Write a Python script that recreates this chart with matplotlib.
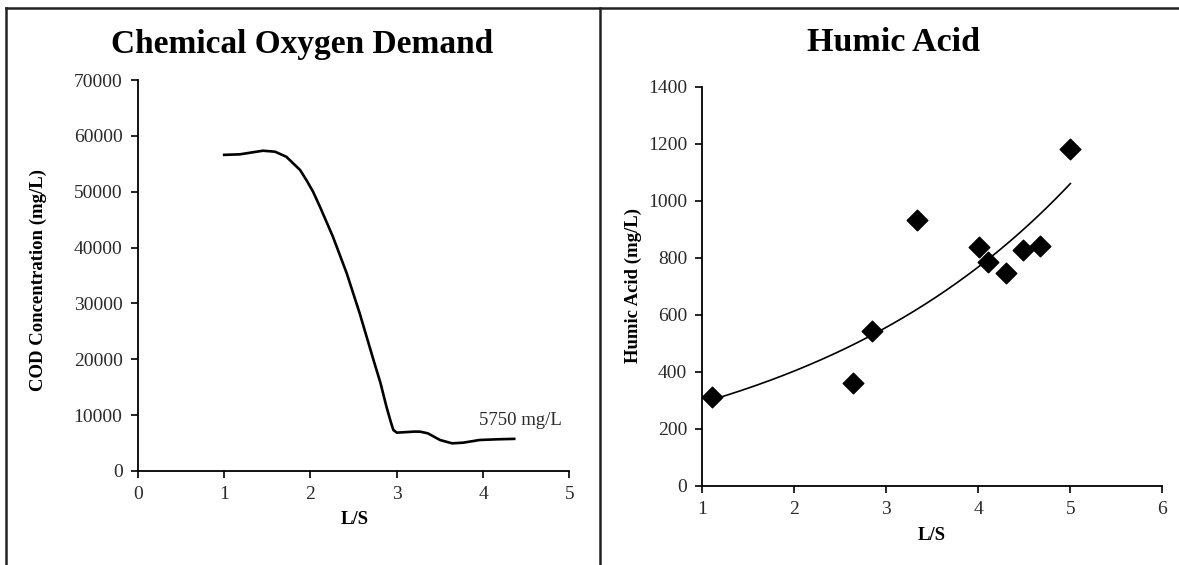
"""Two-panel leachate chart: COD decline and humic acid rise versus L/S."""
import matplotlib
matplotlib.use("Agg")
import matplotlib.pyplot as plt
import numpy as np
from matplotlib.lines import Line2D

# COD concentration curve
cod_ls = [1.0, 1.18, 1.45, 1.59, 1.72, 1.88, 1.96, 2.03, 2.11, 2.26, 2.42, 2.57,
          2.73, 2.81, 2.88, 2.93, 2.96, 3.0, 3.1, 3.2, 3.27, 3.36, 3.50, 3.64,
          3.77, 3.96, 4.16, 4.36]
cod_mg = [56600, 56690, 57340, 57160, 56260, 53880, 51900, 50000, 47300, 41940,
          35390, 28230, 19870, 15800, 11510, 8800, 7340, 6860, 6950, 7050, 7040,
          6740, 5550, 4950, 5070, 5550, 5670, 5750]
cod_note = "5750 mg/L"

# humic acid samples
ha_ls = [1.11, 2.64, 2.84, 3.33, 4.01, 4.10, 4.30, 4.48, 4.67, 5.00]
ha_mg = [310, 360, 543, 932, 838, 783, 747, 826, 842, 1182]

SERIF = ["Liberation Serif", "DejaVu Serif"]
plt.rcParams["font.family"] = SERIF


def style(ax, xlim, ylim, xticks, yticks):
    ax.set_xlim(*xlim); ax.set_ylim(*ylim)
    ax.set_xticks(xticks); ax.set_yticks(yticks)
    for s in ("top", "right"):
        ax.spines[s].set_visible(False)
    for s in ("left", "bottom"):
        ax.spines[s].set_linewidth(1.3)
    ax.tick_params(direction="out", length=5, width=1.2, labelsize=14,
                   labelcolor="#2a2a2a", pad=6)


fig = plt.figure(figsize=(11.79, 5.65), dpi=100)

# left panel: COD
ax1 = fig.add_axes([0.1169, 0.1664, 0.3661, 0.6920])
ax1.plot(cod_ls, cod_mg, color="black", lw=1.9, solid_joinstyle="round")
style(ax1, (0, 5), (0, 70000), range(0, 6), range(0, 70001, 10000))
ax1.text(4.43, 8950, cod_note, ha="center", va="center", fontsize=13.5, color="#2a2a2a")

# right panel: humic acid with exponential trendline
ax2 = fig.add_axes([0.5957, 0.1402, 0.3902, 0.7067])
b, ln_a = np.polyfit(ha_ls, np.log(ha_mg), 1)
xt = np.linspace(min(ha_ls), max(ha_ls), 200)
ax2.plot(xt, np.exp(ln_a) * np.exp(b * xt), color="black", lw=1.2)
ax2.scatter(ha_ls, ha_mg, marker="D", s=110, color="black", zorder=3)
style(ax2, (1, 6), (0, 1400), range(1, 7), range(0, 1401, 200))

# titles and axis labels placed in figure coordinates
fig.text(0.2561, 0.9204, "Chemical Oxygen Demand", ha="center", va="center",
         fontsize=24, fontweight="bold")
fig.text(0.758, 0.924, "Humic Acid", ha="center", va="center",
         fontsize=24.5, fontweight="bold")
fig.text(0.0322, 0.504, "COD Concentration (mg/L)", rotation=90, ha="center",
         va="center", fontsize=13.5, fontweight="bold")
fig.text(0.537, 0.494, "Humic Acid (mg/L)", rotation=90, ha="center",
         va="center", fontsize=13.5, fontweight="bold")
fig.text(0.301, 0.080, "L/S", ha="center", va="center", fontsize=13.5, fontweight="bold")
fig.text(0.7905, 0.053, "L/S", ha="center", va="center", fontsize=13.5, fontweight="bold")

# panel frames
W, H = 1179, 565
def fx(px): return px / W
def fy(py): return 1 - py / H
for xs, ys in [((6, 6), (8, 565)), ((6, 1179), (8, 8)), ((600, 600), (8, 565))]:
    fig.add_artist(Line2D([fx(x) for x in xs], [fy(y) for y in ys],
                          color="#222222", lw=1.8))

fig.savefig("out.png", dpi=100)
